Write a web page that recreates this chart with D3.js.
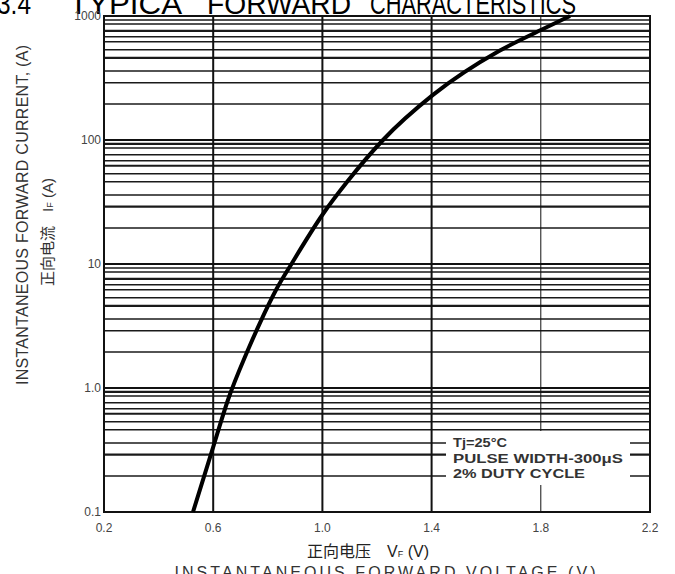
<!DOCTYPE html>
<html>
<head>
<meta charset="utf-8">
<script src="https://cdn.jsdelivr.net/npm/d3@7"></script>
<style>
  body { margin: 0; background: #fff; }
  svg { display: block; font-family: "Liberation Sans", Arial, sans-serif; }
  .tick-label { fill: #444; font-size: 12px; }
  .cjk { font-family: "Noto Sans CJK SC", sans-serif; }
</style>
</head>
<body>
<div id="chart"></div>
<script>
// forward voltage (V) vs instantaneous forward current (A)
const voltage = [0.526, 0.601, 0.654, 0.724, 0.771, 0.830, 0.889, 1.002, 1.090, 1.222, 1.405, 1.647, 1.808, 1.907];
const current = [0.1, 0.34, 0.80, 1.95, 3.34, 6.17, 10.2, 25.3, 45.8, 100, 231, 522, 785, 1000];

const xTicks = [0.2, 0.6, 1.0, 1.4, 1.8, 2.2];
const xTickLabels = ["0.2", "0.6", "1.0", "1.4", "1.8", "2.2"];
const yTicks = [0.1, 1, 10, 100, 1000];
const yTickLabels = ["0.1", "1.0", "10", "100", "1000"];
// the scanned grid has its own odd set of lines inside each decade
const decadeSteps = [1.95, 2.9, 3.6, 4.6, 5.35, 6.2, 6.8, 7.6, 8.6, 9.3];
const decades = [0.1, 1, 10, 100];
const legendLines = ["Tj=25°C", "PULSE WIDTH-300μS", "2% DUTY CYCLE"];
const titleWords = ["3.4", "TYPICA", "FORWARD", "CHARACTERISTICS"];

const W = 675, H = 574;
const svg = d3.select("#chart").append("svg")
    .attr("width", W)
    .attr("height", H);

const x = d3.scaleLinear().domain([0.2, 2.2]).range([104, 650]);
const y = d3.scaleLog().domain([0.1, 1000]).range([512, 16]);

// title, cut off at the top of the page
const titlePos = [[-3, 34], [69, 113], [207, 144], [370, 206]];
svg.selectAll(".title").data(titleWords).enter()
    .append("text")
    .attr("class", "title")
    .attr("x", (d, i) => titlePos[i][0])
    .attr("y", 14)
    .attr("textLength", (d, i) => titlePos[i][1])
    .attr("lengthAdjust", "spacingAndGlyphs")
    .style("font-size", "29px")
    .text(d => d);

const grid = svg.append("g");

// horizontal grid
const minorValues = [];
decades.forEach(d => decadeSteps.forEach(s => minorValues.push(d * s)));

grid.selectAll(".hminor").data(minorValues).enter()
    .append("line")
    .attr("class", "hminor")
    .attr("x1", x(0.2)).attr("x2", x(2.2))
    .attr("y1", d => y(d)).attr("y2", d => y(d))
    .attr("stroke", "#1a1a1a")
    .attr("stroke-width", (d, i) => (i % 4 === 1 ? 2.2 : 1.5));

grid.selectAll(".hmajor").data(yTicks).enter()
    .append("line")
    .attr("class", "hmajor")
    .attr("x1", x(0.2)).attr("x2", x(2.2))
    .attr("y1", d => y(d)).attr("y2", d => y(d))
    .attr("stroke", "#111")
    .attr("stroke-width", 2);

// vertical grid
grid.selectAll(".vline").data(xTicks).enter()
    .append("line")
    .attr("class", "vline")
    .attr("x1", d => x(d)).attr("x2", d => x(d))
    .attr("y1", y(1000)).attr("y2", y(0.1))
    .attr("stroke", "#111")
    .attr("stroke-width", d => (d === 1.8 ? 1 : 2));

// legend box covers the grid
const lg = svg.append("g");
lg.append("rect")
    .attr("x", 446).attr("y", 431)
    .attr("width", 184).attr("height", 54)
    .attr("fill", "#fff");
lg.selectAll("text").data(legendLines).enter()
    .append("text")
    .attr("x", 453)
    .attr("y", (d, i) => 447 + i * 15.5)
    .attr("textLength", (d, i) => [54, 170, 132][i])
    .attr("lengthAdjust", "spacingAndGlyphs")
    .style("font-size", "13px")
    .style("font-weight", "bold")
    .style("fill", "#333")
    .text(d => d);

// frame
svg.append("rect")
    .attr("x", x(0.2)).attr("y", y(1000))
    .attr("width", x(2.2) - x(0.2)).attr("height", y(0.1) - y(1000))
    .attr("fill", "none")
    .attr("stroke", "#111")
    .attr("stroke-width", 2);

// curve
const pts = voltage.map((v, i) => [x(v), y(current[i])]);
svg.append("path")
    .datum(pts)
    .attr("d", d3.line().curve(d3.curveMonotoneX))
    .attr("fill", "none")
    .attr("stroke", "#000")
    .attr("stroke-width", 4);

// tick labels
svg.selectAll(".ylab").data(yTicks).enter()
    .append("text")
    .attr("class", "tick-label")
    .attr("x", 101)
    .attr("y", d => y(d) + 4)
    .attr("text-anchor", "end")
    .text((d, i) => yTickLabels[i]);

svg.selectAll(".xlab").data(xTicks).enter()
    .append("text")
    .attr("class", "tick-label")
    .attr("x", d => x(d))
    .attr("y", 532)
    .attr("text-anchor", "middle")
    .text((d, i) => xTickLabels[i]);

// y axis titles
svg.append("text")
    .attr("transform", "translate(28,215) rotate(-90)")
    .attr("text-anchor", "middle")
    .attr("textLength", 340)
    .style("font-size", "16px")
    .style("fill", "#333")
    .text("INSTANTANEOUS FORWARD CURRENT, (A)");

const yt2 = svg.append("text")
    .attr("transform", "translate(53,232) rotate(-90)")
    .attr("text-anchor", "middle")
    .style("font-size", "15px")
    .style("fill", "#333");
yt2.append("tspan").attr("class", "cjk").text("正向电流");
yt2.append("tspan").attr("dx", 14).text("I");
yt2.append("tspan").style("font-size", "9px").text("F");
yt2.append("tspan").text(" (A)");

// x axis titles
const xt1 = svg.append("text")
    .attr("x", 368).attr("y", 557)
    .attr("text-anchor", "middle")
    .style("font-size", "16px")
    .style("fill", "#222");
xt1.append("tspan").attr("class", "cjk").text("正向电压");
xt1.append("tspan").attr("dx", 16).text("V");
xt1.append("tspan").style("font-size", "9px").text("F");
xt1.append("tspan").text(" (V)");

svg.append("text")
    .attr("x", 385).attr("y", 578)
    .attr("text-anchor", "middle")
    .attr("textLength", 421)
    .style("font-size", "16px")
    .style("fill", "#333")
    .text("INSTANTANEOUS FORWARD VOLTAGE (V)");
</script>
</body>
</html>
